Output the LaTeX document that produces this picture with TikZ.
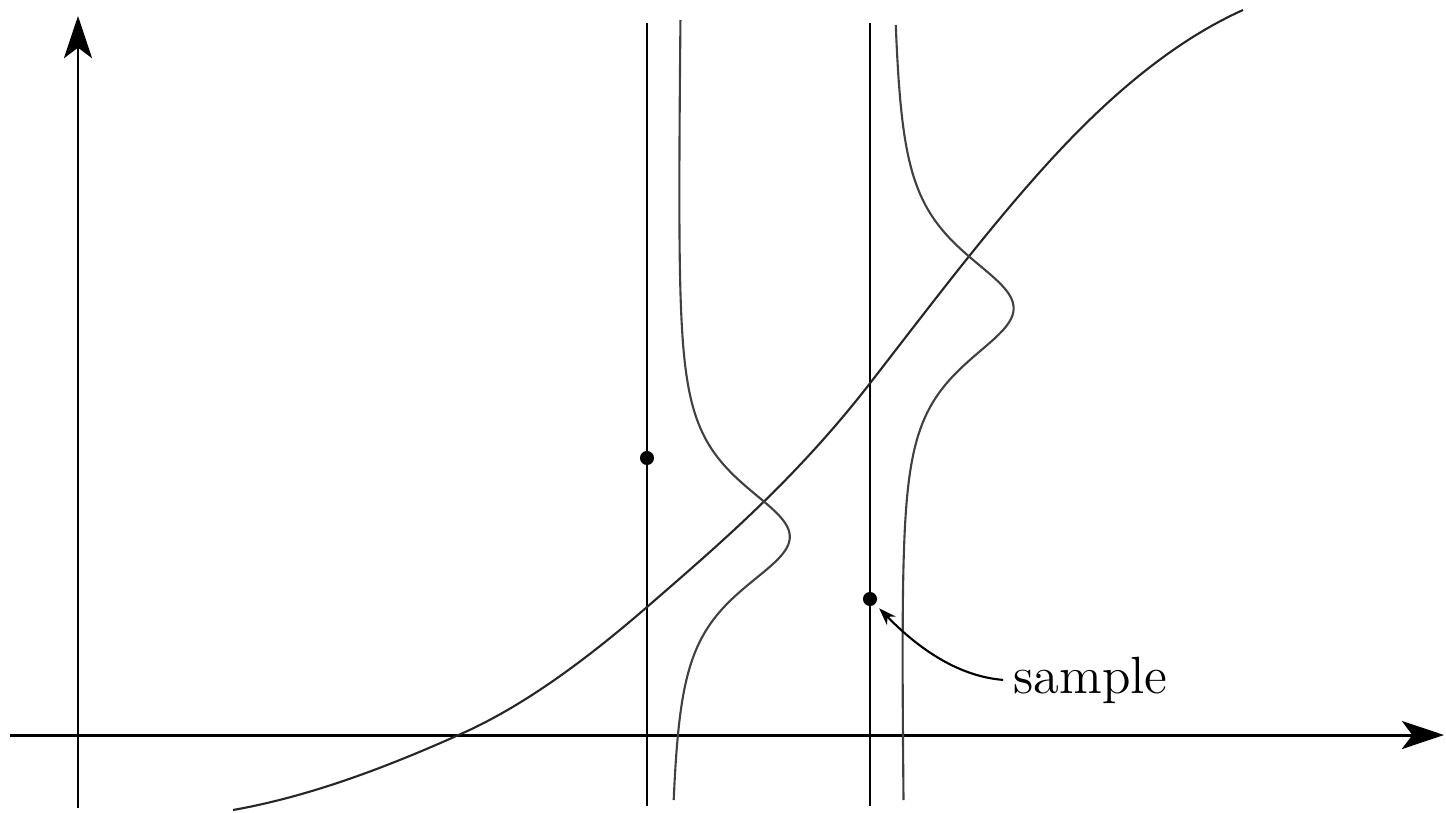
\documentclass[tikz,border=0pt]{standalone}
\usepackage{tikz}
\usetikzlibrary{arrows.meta}

\begin{document}
\begin{tikzpicture}[x=0.01cm,y=-0.01cm,
				axis/.style={line width=0.85pt,
						-{Stealth[length=12pt,width=8pt,inset=3pt]}},
				guide/.style={line width=0.7pt},
				curve/.style={line width=0.6pt,black!85},
				dens/.style={line width=0.6pt,black!75,smooth,samples=160},
				dot/.style={circle,fill,inner sep=0pt,minimum size=4pt},
				lbl/.style={font=\fontsize{14.9}{18}\selectfont,
						inner xsep=2.8pt,inner ysep=0pt}]

			\useasboundingbox (0,0) rectangle (1446,812);

			\coordinate (ybot) at (78,808);
			\coordinate (ytop) at (78,16);
			\coordinate (xl) at (10,735);
			\coordinate (xr) at (1444,735);
			\coordinate (atop) at (647,23);
			\coordinate (abot) at (647,806);
			\coordinate (btop) at (870,23);
			\coordinate (bbot) at (870,806);

			\draw[axis] (ybot)--(ytop);
			\draw[axis] (xl)--(xr);
			\draw[guide] (atop)--(abot);
			\draw[guide] (btop)--(bbot);

			\draw[curve] (233,810)
				.. controls (309.7,796.4) and (386.3,767.5) .. (463,733)
				.. controls (524.3,705.4) and (585.7,660.1) .. (647,607)
				.. controls (721.7,542.2) and (796.3,478.4) .. (871,382)
				.. controls (934,300.7) and (997,217.1) .. (1060,150)
				.. controls (1121,85) and (1182,37.4) .. (1243,10);

			\draw[dens] plot[domain=20:800]
				({680-0.012*(\x-20)+116*(1+((\x-537)/58)^2/2)^(-1.5)},\x);
			\draw[dens] plot[domain=25:800]
				({893+0.0128*(\x-25)+117*(1+((\x-308)/60)^2/2)^(-1.5)},\x);

			\node[dot] (obs) at (647,458) {};
			\node[dot] (smp) at (870,599) {};
			\node[lbl,anchor=base west] (name) at (1003,693) {sample};

			\draw[line width=0.6pt,-{Stealth[length=5pt,width=3.5pt]},shorten >=1.5pt]
				(name.west) .. controls (955,676) and (915,645) .. (smp);

		\end{tikzpicture}
\end{document}
